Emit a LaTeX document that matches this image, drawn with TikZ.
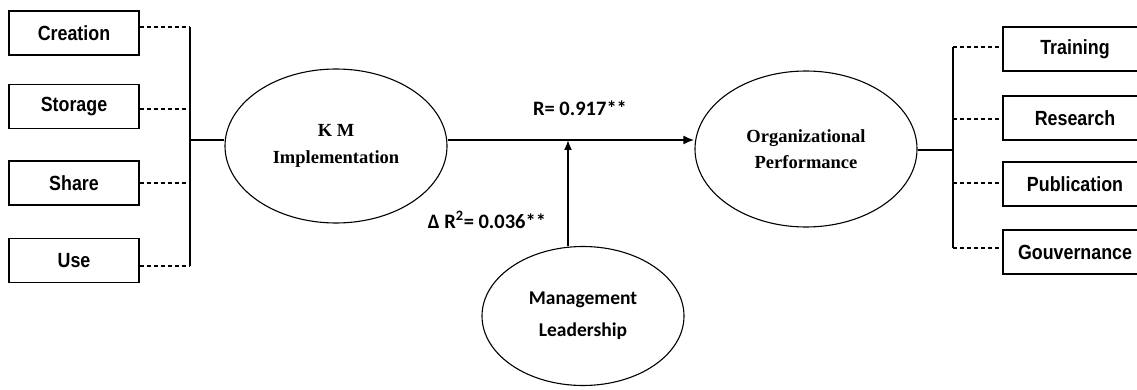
\documentclass[tikz,border=0pt]{standalone}
\usepackage{fontspec}
\usetikzlibrary{shapes.geometric,arrows.meta}
\newfontfamily\boxfont[FakeStretch=0.87]{Liberation Sans}
\newfontfamily\calfont{Carlito}
\newfontfamily\serfont{Liberation Serif}
\begin{document}
\begin{tikzpicture}[x=1pt,y=-1pt,
  dimbox/.style={draw, line width=1.3pt, minimum width=130, minimum height=44, inner sep=0,
    font=\boxfont\bfseries\fontsize{20.5}{24}\selectfont},
  rbox/.style={dimbox, minimum width=144},
  construct/.style={draw, ellipse, line width=1.1pt, inner sep=0, align=center},
  sertext/.style={font=\serfont\bfseries\fontsize{18.5}{26.5}\selectfont},
  caltext/.style={font=\calfont\bfseries\fontsize{19.5}{32}\selectfont},
  bus/.style={line width=1.1pt},
  dashlink/.style={line width=1.1pt, dash pattern=on 4pt off 3pt},
  mainarrow/.style={line width=2.2pt, -{Latex[length=11,width=9]}},
  modarrow/.style={line width=1.7pt, -{Latex[length=10,width=8]}},
  stat/.style={font=\calfont\bfseries\fontsize{20.5}{24}\selectfont}
]
\useasboundingbox (0,0) rectangle (1137,390);
\clip (0,0) rectangle (1137,390);

% left dimension boxes
\node[dimbox] (creation) at (74,33) {Creation};
\node[dimbox] (storage) at (74,106.5) {Storage};
\node[dimbox] (share) at (74,183) {Share};
\node[dimbox] (use) at (74,260.5) {Use};

% constructs
\node[construct, sertext, minimum width=222, minimum height=154] (km) at (336,146) {K M\\Implementation};
\node[construct, sertext, minimum width=222, minimum height=156] (org) at (806,149) {Organizational\\Performance};
\node[construct, caltext, minimum width=202, minimum height=139] (mgmt) at (583,316) {Management\\Leadership};

% right dimension boxes
\node[rbox] (training) at (1075,49) {Training};
\node[rbox] (research) at (1075,118) {Research};
\node[rbox] (publication) at (1075,184) {Publication};
\node[rbox] (gouv) at (1075,252) {Gouvernance};

% left bus
\coordinate (lb1) at (190,27);
\coordinate (lb2) at (190,109);
\coordinate (lb3) at (190,183);
\coordinate (lb4) at (190,266);
\coordinate (lbm) at (190,140);
\draw[bus] (lb1) -- (lb4);
\draw[dashlink] (lb1 -| creation.east) -- (lb1);
\draw[dashlink] (lb2 -| storage.east) -- (lb2);
\draw[dashlink] (lb3 -| share.east) -- (lb3);
\draw[dashlink] (lb4 -| use.east) -- (lb4);
\draw[bus] (lbm) -- (lbm -| km.west);

% right bus
\coordinate (rb1) at (953,47);
\coordinate (rb2) at (953,119);
\coordinate (rb3) at (953,183);
\coordinate (rb4) at (953,248);
\coordinate (rbm) at (953,150);
\draw[bus] (rb1) -- (rb4);
\draw[dashlink] (rb1) -- (rb1 -| training.west);
\draw[dashlink] (rb2) -- (rb2 -| research.west);
\draw[dashlink] (rb3) -- (rb3 -| publication.west);
\draw[dashlink] (rb4) -- (rb4 -| gouv.west);
\draw[bus] (rbm -| org.east) -- (rbm);

% main path
\coordinate (pathy) at (0,140);
\coordinate (mid) at (568,140);
\draw[mainarrow] (pathy -| km.east) -- (pathy -| org.west);
\draw[modarrow] (mid |- mgmt.north) -- (mid);

% labels
\node[stat] (rlabel) at (580,108) {R= 0.917**};
\node[stat] (dlabel) at (487,220) {Δ R\textsuperscript{2}= 0.036**};
\end{tikzpicture}
\end{document}
